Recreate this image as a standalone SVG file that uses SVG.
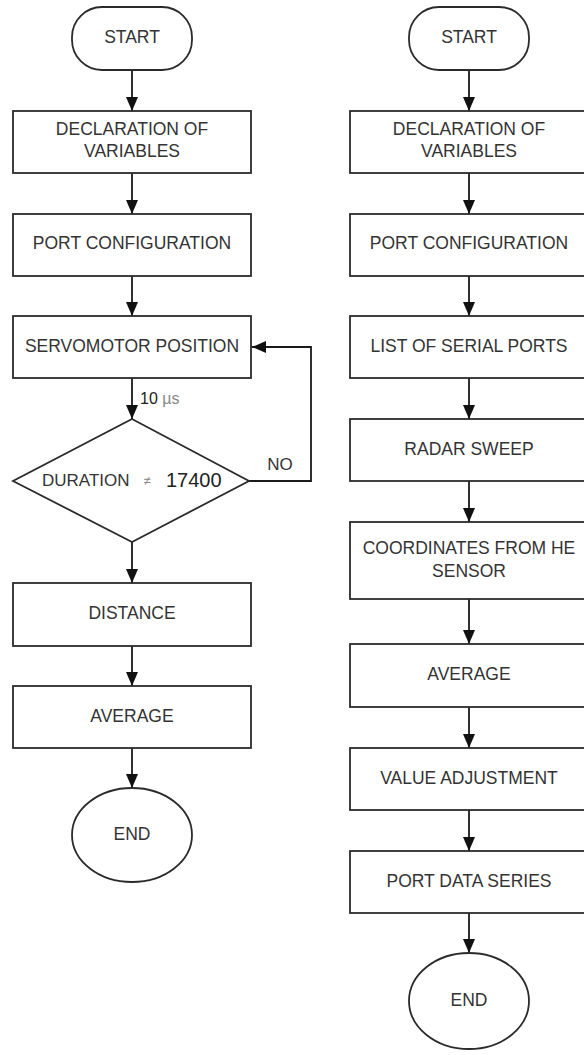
<svg xmlns="http://www.w3.org/2000/svg" width="584" height="1055" viewBox="0 0 584 1055">
<style>
.n{fill:#fff;stroke:#2b2b2b;stroke-width:1.8}
.t{font-family:"Liberation Sans",Arial,sans-serif;font-size:17.5px;fill:#333;text-anchor:middle}
.c{fill:none;stroke:#1a1a1a;stroke-width:1.8}
</style>
<defs>
<marker id="ah" markerWidth="14" markerHeight="12" refX="14" refY="6" viewBox="0 0 14 12" markerUnits="userSpaceOnUse" orient="auto" overflow="visible">
<path d="M0,0 L14,6 L0,12 Z" fill="#111"/>
</marker>
</defs>
<rect width="584" height="1055" fill="#fff"/>
<g id="connectors">
<path class="c" marker-end="url(#ah)" d="M132,70 V111"/>
<path class="c" marker-end="url(#ah)" d="M132,173 V214"/>
<path class="c" marker-end="url(#ah)" d="M132,276 V316"/>
<path class="c" marker-end="url(#ah)" d="M132,378 V419"/>
<path class="c" marker-end="url(#ah)" d="M249,481 H311 V347 H252"/>
<path class="c" marker-end="url(#ah)" d="M132,542 V583"/>
<path class="c" marker-end="url(#ah)" d="M132,646 V686"/>
<path class="c" marker-end="url(#ah)" d="M132,748 V788"/>
<path class="c" marker-end="url(#ah)" d="M469,70 V111"/>
<path class="c" marker-end="url(#ah)" d="M469,173 V214"/>
<path class="c" marker-end="url(#ah)" d="M469,276 V316"/>
<path class="c" marker-end="url(#ah)" d="M469,378 V419"/>
<path class="c" marker-end="url(#ah)" d="M469,481 V522"/>
<path class="c" marker-end="url(#ah)" d="M469,599 V644"/>
<path class="c" marker-end="url(#ah)" d="M469,707 V748"/>
<path class="c" marker-end="url(#ah)" d="M469,810 V851"/>
<path class="c" marker-end="url(#ah)" d="M469,913 V953"/>
<text x="140" y="404" font-family="Liberation Sans,Arial,sans-serif" font-size="16" fill="#222">10 <tspan fill="#888">µs</tspan></text>
<text x="280" y="470" class="t" style="font-size:17px">NO</text>
</g>
<g id="l-start"><rect class="n" x="72" y="7" width="120" height="63" rx="30"/><text class="t" x="132" y="43">START</text></g>
<g id="l-decl"><rect class="n" x="13" y="111" width="238" height="62"/><text class="t" x="132" y="135">DECLARATION OF</text><text class="t" x="132" y="157">VARIABLES</text></g>
<g id="l-port"><rect class="n" x="13" y="214" width="238" height="62"/><text class="t" x="132" y="249">PORT CONFIGURATION</text></g>
<g id="l-servo"><rect class="n" x="13" y="316" width="238" height="62"/><text class="t" x="132" y="352">SERVOMOTOR POSITION</text></g>
<g id="l-dur"><polygon class="n" points="132,419 249,481 132,542 13,481"/>
<text x="42" y="486" font-family="Liberation Sans,Arial,sans-serif" font-size="17" fill="#333">DURATION</text>
<text x="147" y="485" font-family="Liberation Sans,Arial,sans-serif" font-size="13" fill="#888" text-anchor="middle">≠</text>
<text x="166" y="487" font-family="Liberation Sans,Arial,sans-serif" font-size="20" fill="#222">17400</text></g>
<g id="l-dist"><rect class="n" x="13" y="583" width="238" height="63"/><text class="t" x="132" y="619">DISTANCE</text></g>
<g id="l-avg"><rect class="n" x="13" y="686" width="238" height="62"/><text class="t" x="132" y="722">AVERAGE</text></g>
<g id="l-end"><ellipse class="n" cx="132" cy="835" rx="60" ry="47"/><text class="t" x="132" y="840">END</text></g>
<g id="r-start"><rect class="n" x="409" y="7" width="120" height="63" rx="30"/><text class="t" x="469" y="43">START</text></g>
<g id="r-decl"><rect class="n" x="350" y="111" width="238" height="62"/><text class="t" x="469" y="135">DECLARATION OF</text><text class="t" x="469" y="157">VARIABLES</text></g>
<g id="r-port"><rect class="n" x="350" y="214" width="238" height="62"/><text class="t" x="469" y="249">PORT CONFIGURATION</text></g>
<g id="r-list"><rect class="n" x="350" y="316" width="238" height="62"/><text class="t" x="469" y="352">LIST OF SERIAL PORTS</text></g>
<g id="r-radar"><rect class="n" x="350" y="419" width="238" height="62"/><text class="t" x="469" y="455">RADAR SWEEP</text></g>
<g id="r-coord"><rect class="n" x="350" y="522" width="238" height="77"/><text class="t" x="469" y="554">COORDINATES FROM HE</text><text class="t" x="469" y="577">SENSOR</text></g>
<g id="r-avg"><rect class="n" x="350" y="644" width="238" height="63"/><text class="t" x="469" y="680">AVERAGE</text></g>
<g id="r-adj"><rect class="n" x="350" y="748" width="238" height="62"/><text class="t" x="469" y="784">VALUE ADJUSTMENT</text></g>
<g id="r-series"><rect class="n" x="350" y="851" width="238" height="62"/><text class="t" x="469" y="887">PORT DATA SERIES</text></g>
<g id="r-end"><ellipse class="n" cx="469" cy="1001" rx="60" ry="48"/><text class="t" x="469" y="1006">END</text></g>
</svg>
